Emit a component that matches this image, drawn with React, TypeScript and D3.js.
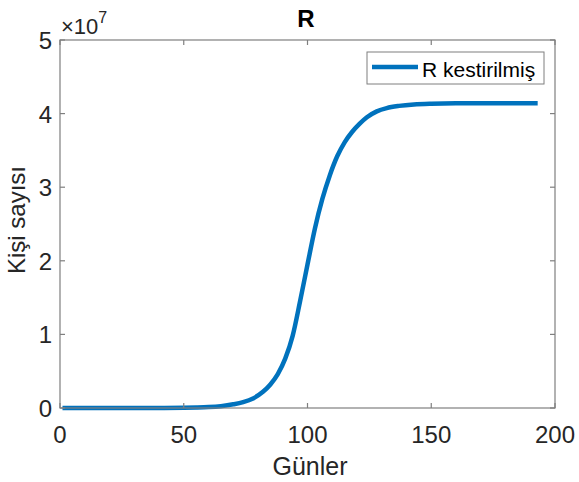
import React from "react";
import * as d3 from "d3";

const days = [1, 10, 20, 30, 40, 50, 55, 60, 65, 70, 74, 78, 82, 85, 88, 91, 94, 97, 100, 103, 106, 109, 112, 115, 118, 121, 124, 128, 132, 137, 143, 150, 160, 170, 180, 193];
const values = [0, 0, 0, 0, 0.001, 0.003, 0.006, 0.012, 0.025, 0.05, 0.08, 0.13, 0.22, 0.32, 0.46, 0.67, 0.98, 1.45, 1.95, 2.44, 2.84, 3.16, 3.42, 3.61, 3.75, 3.86, 3.95, 4.03, 4.075, 4.105, 4.125, 4.135, 4.14, 4.14, 4.14, 4.14];
const xTicks = [0, 50, 100, 150, 200];
const yTicks = [0, 1, 2, 3, 4, 5];
const title = "R";
const xLabel = "Günler";
const yLabel = "Kişi sayısı";
const legendLabel = "R kestirilmiş";

export default function App() {
  const W = 579, H = 482;
  const L = 60, R = 555, T = 40, B = 408;
  const x = d3.scaleLinear().domain([0, 200]).range([L, R]);
  const y = d3.scaleLinear().domain([0, 5]).range([B, T]);
  const line = d3.line<number>().x((_, i) => x(days[i])).y((d) => y(d)).curve(d3.curveMonotoneX);
  const font = "'Liberation Sans', Arial, Helvetica, sans-serif";
  const axisColor = "#7f7f7f";
  const textColor = "#262626";
  const tl = 5;
  return (
    <svg width={W} height={H} style={{ position: "absolute", left: 0, top: 0, background: "#fff" }} fontFamily={font}>
      <rect x={0} y={0} width={W} height={H} fill="#fff" />
      <path d={line(values) || ""} fill="none" stroke="#0072BD" strokeWidth={4.5} strokeLinejoin="round" />
      <rect x={L} y={T} width={R - L} height={B - T} fill="none" stroke={axisColor} strokeWidth={1.2} />
      {xTicks.map((t) => (
        <g key={"x" + t}>
          <line x1={x(t)} x2={x(t)} y1={B} y2={B - tl} stroke={axisColor} strokeWidth={1.2} />
          <line x1={x(t)} x2={x(t)} y1={T} y2={T + tl} stroke={axisColor} strokeWidth={1.2} />
          <text x={x(t)} y={B + 35} fontSize={24} textAnchor="middle" fill={textColor}>{t}</text>
        </g>
      ))}
      {yTicks.map((t) => (
        <g key={"y" + t}>
          <line x1={L} x2={L + tl} y1={y(t)} y2={y(t)} stroke={axisColor} strokeWidth={1.2} />
          <line x1={R} x2={R - tl} y1={y(t)} y2={y(t)} stroke={axisColor} strokeWidth={1.2} />
          <text x={L - 8} y={y(t) + 9} fontSize={24} textAnchor="end" fill={textColor}>{t}</text>
        </g>
      ))}
      <text x={L + 1} y={T - 6} fontSize={22} fill={textColor}>
        ×10<tspan dy={-11} fontSize={16}>7</tspan>
      </text>
      <text x={306} y={27} fontSize={24} fontWeight="bold" textAnchor="middle" fill="#000">{title}</text>
      <text x={310} y={475} fontSize={25} textAnchor="middle" fill={textColor}>{xLabel}</text>
      <text transform={`translate(25, 220) rotate(-90)`} fontSize={24} textAnchor="middle" fill={textColor}>{yLabel}</text>
      <g>
        <rect x={367} y={52} width={177} height={32} fill="#fff" stroke={axisColor} strokeWidth={1} />
        <line x1={372} x2={418} y1={67} y2={67} stroke="#0072BD" strokeWidth={4.5} />
        <text x={422} y={77} fontSize={21} fill="#000">{legendLabel}</text>
      </g>
    </svg>
  );
}
